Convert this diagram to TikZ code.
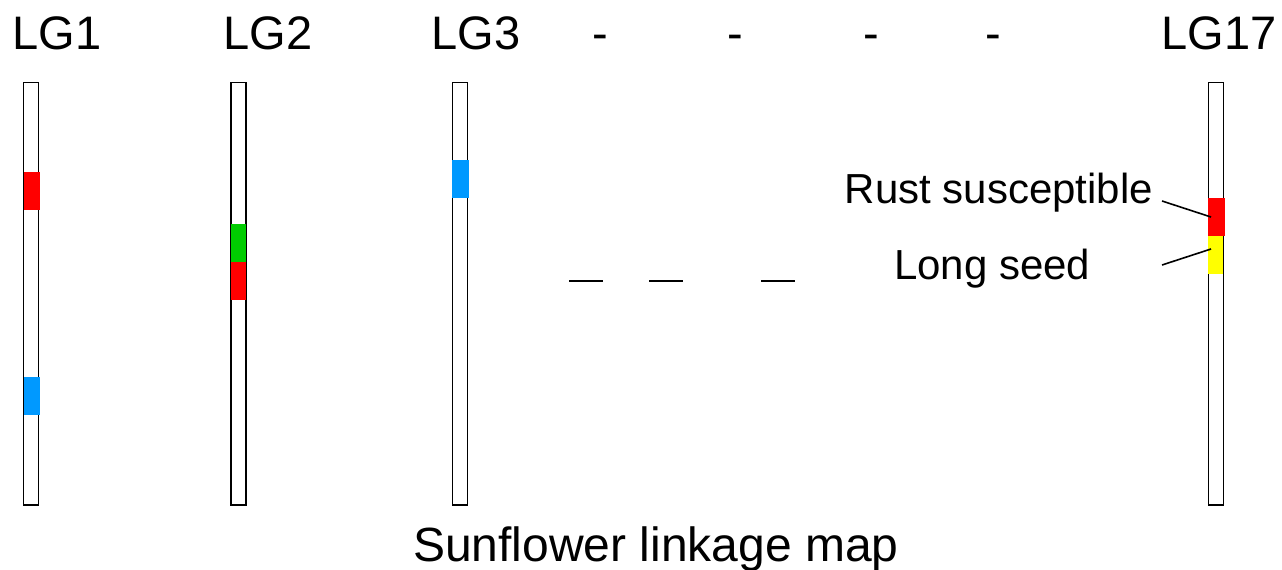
\documentclass[tikz,border=0pt]{standalone}
\usepackage{fontspec}
\setmainfont{Liberation Sans}
\definecolor{qred}{HTML}{FF0000}
\definecolor{qblue}{HTML}{0099FF}
\definecolor{qgreen}{HTML}{00CC00}
\definecolor{qyellow}{HTML}{FFFF00}
\tikzset{
  lgtext/.style={anchor=base west,inner sep=0pt,font=\fontsize{47}{50}\selectfont},
  marktext/.style={anchor=base west,inner sep=0pt,font=\fontsize{42}{45}\selectfont},
  chrom/.style={draw=black,line width=1.4pt,fill=white},
  lead/.style={draw=black,line width=1.6pt},
  gap/.style={draw=black,line width=1.6pt}
}
\begin{document}
\begin{tikzpicture}[x=1pt,y=-1pt]
\useasboundingbox (0,0) rectangle (1282,570);
% labels
\node[lgtext] (l1) at (12.5,49) {LG1};
\node[lgtext] (l2) at (223.5,49) {LG2};
\node[lgtext] (l3) at (431.5,49) {LG3};
\node[lgtext] (l17) at (1161.5,49) {LG17};
\node[lgtext,anchor=base] (d1) at (600,49) {-};
\node[lgtext,anchor=base] (d2) at (735,49) {-};
\node[lgtext,anchor=base] (d3) at (871,49) {-};
\node[lgtext,anchor=base] (d4) at (993,49) {-};
% chromosomes
\draw[chrom] (23.5,82.5) rectangle (38.5,505);
\draw[chrom] (231,82.5) rectangle (246,505);
\draw[chrom] (452.5,82.5) rectangle (467.5,505);
\draw[chrom] (1208.5,82.5) rectangle (1223.5,505);
% blocks
\fill[qred] (23.5,172) rectangle (40,210);
\fill[qblue] (23.5,377) rectangle (40,415);
\fill[qgreen] (230.5,223.5) rectangle (246,262);
\fill[qred] (230.5,262) rectangle (246,300);
\fill[qblue] (452,159.5) rectangle (469,197.5);
\fill[qred] (1208,198) rectangle (1225,236);
\fill[qyellow] (1207.5,236) rectangle (1223,274);
% gap dashes
\draw[gap] (569,281) -- (603,281);
\draw[gap] (649,281) -- (683,281);
\draw[gap] (761,281) -- (795,281);
% marker labels
\node[marktext] (rust) at (844.5,203) {Rust susceptible};
\node[marktext] (seed) at (894,279) {Long seed};
\coordinate (rustpt) at (1211,217);
\coordinate (seedpt) at (1211,249);
\draw[lead] (1162,201) -- (rustpt);
\draw[lead] (1162,265) -- (seedpt);
% title
\node[lgtext] (title) at (413,561) {\fontsize{48}{50}\selectfont Sunflower linkage map};
\end{tikzpicture}
\end{document}
